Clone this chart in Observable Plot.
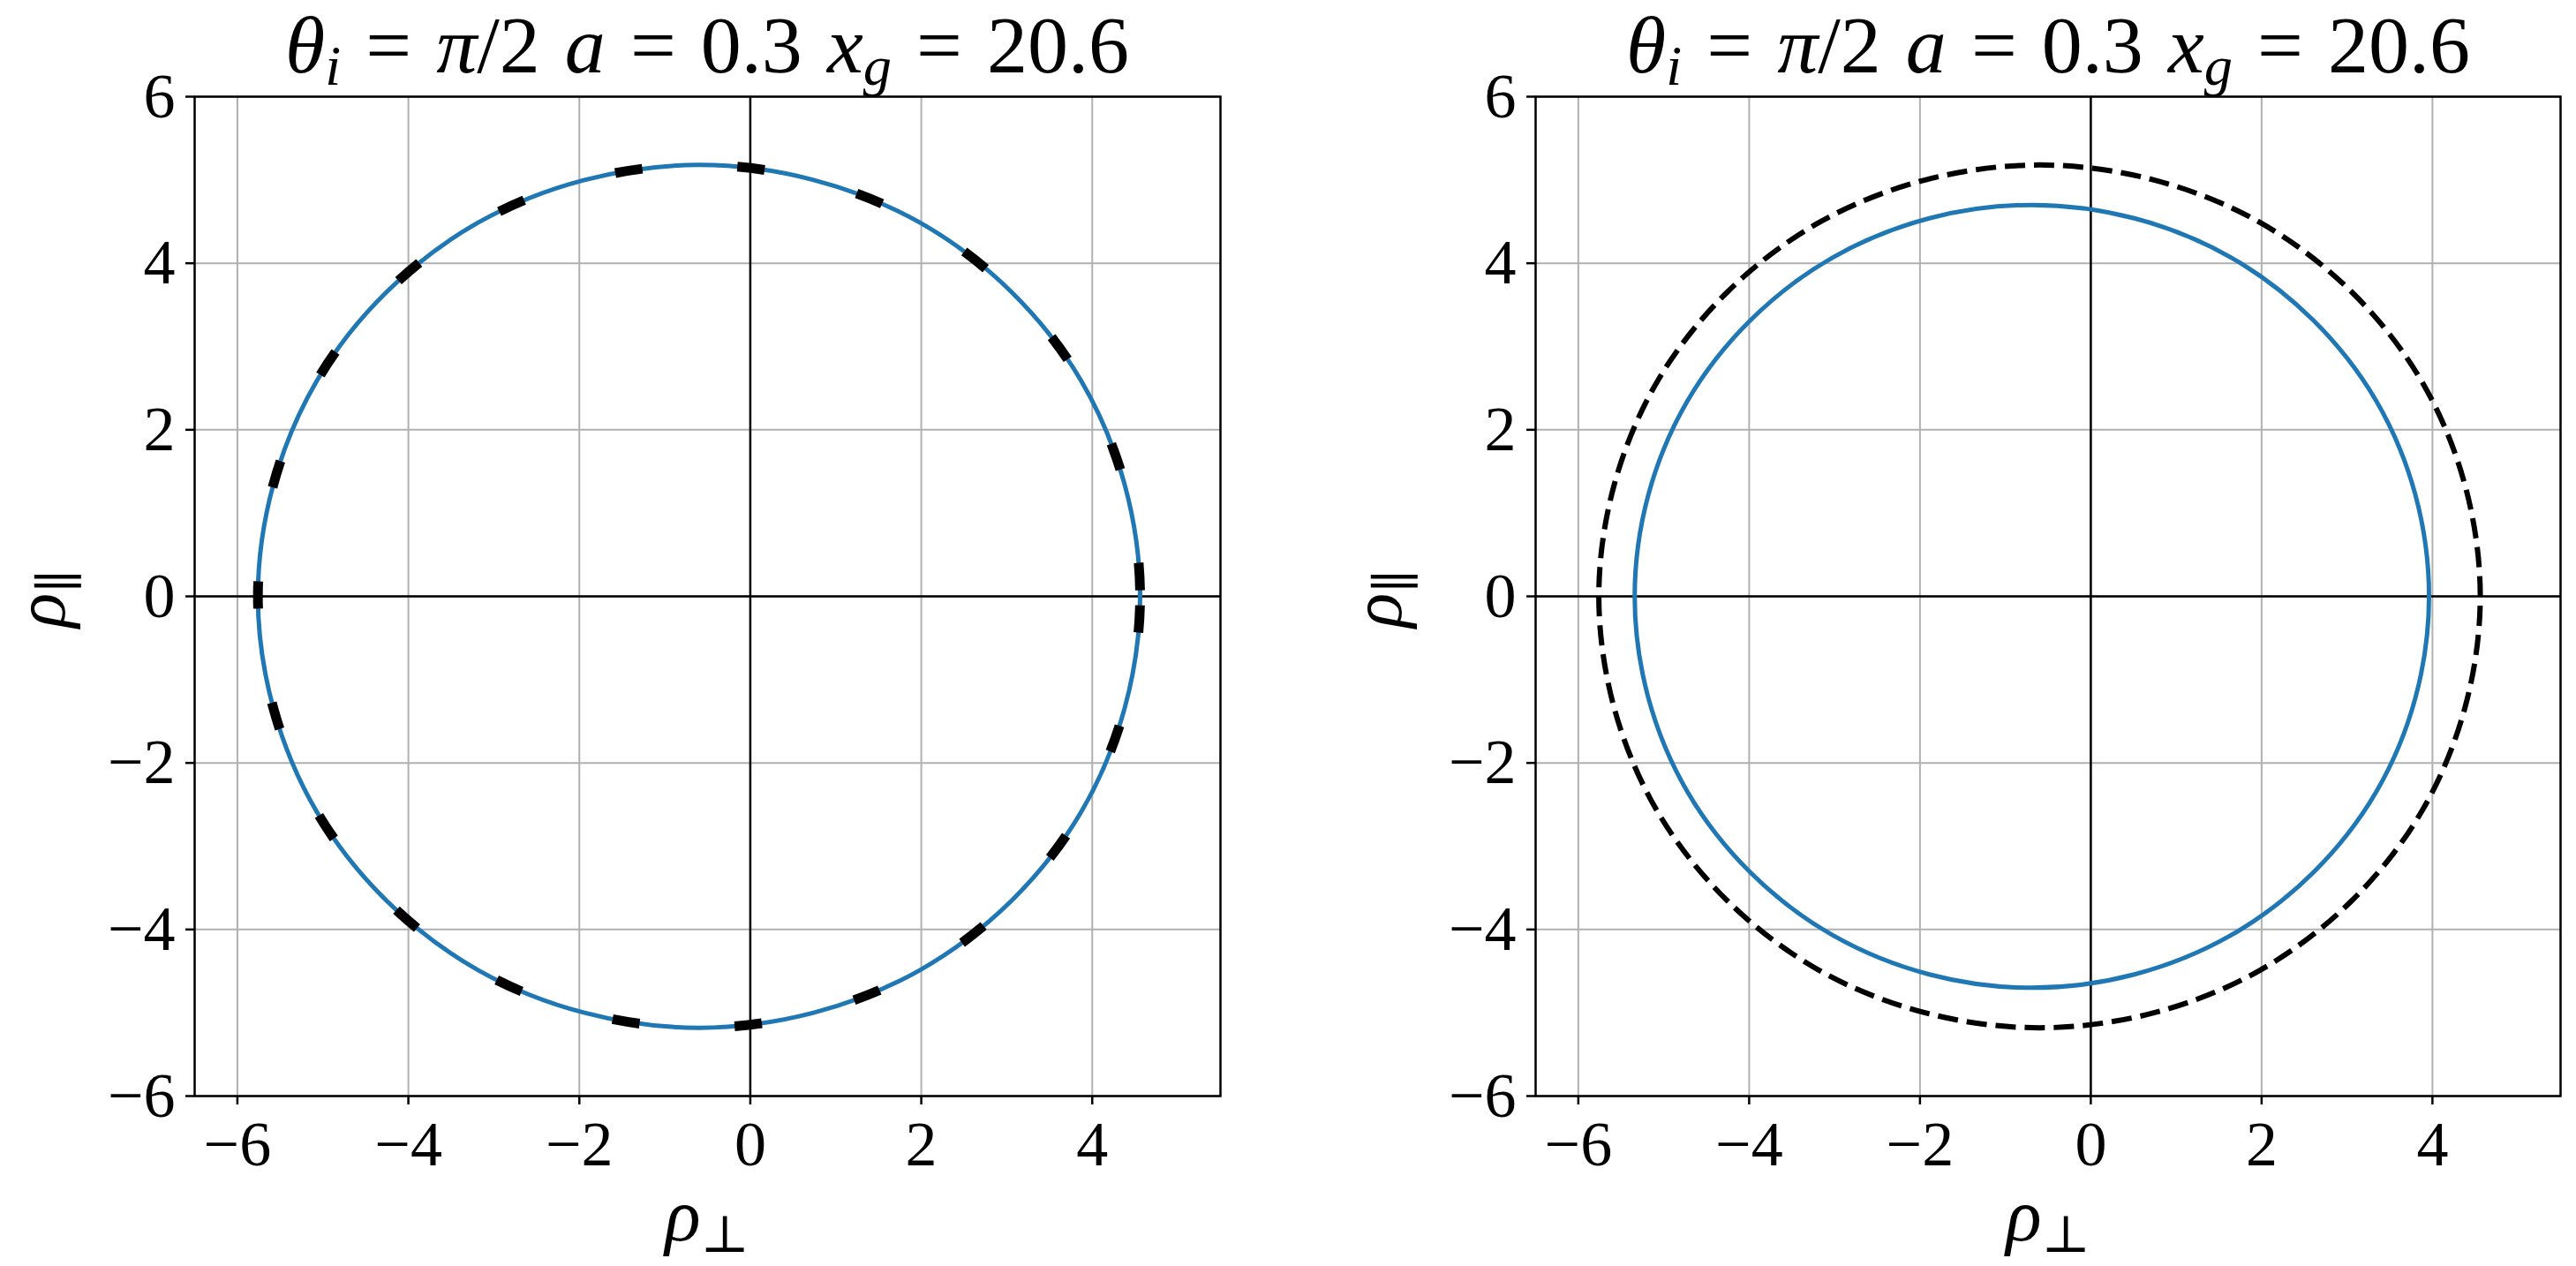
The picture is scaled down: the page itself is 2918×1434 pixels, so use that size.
<!DOCTYPE html>
<html>
<head>
<meta charset="utf-8">
<script src="https://cdn.jsdelivr.net/npm/d3@7"></script>
<script src="https://cdn.jsdelivr.net/npm/@observablehq/plot@0.6"></script>
<style>
  html, body { margin: 0; padding: 0; background: white; }
  #wrap { position: relative; width: 2918px; height: 1434px; overflow: hidden; background: white; }
  .panel { position: absolute; top: 0; }
  .txt { position: absolute; font-family: "Liberation Serif", "DejaVu Serif", serif; color: black; line-height: 1; white-space: nowrap; }
  .txt i { font-style: italic; }
  .sub { font-size: 0.7em; position: relative; top: 0.22em; }
  .title { font-size: 92px; transform: translateX(-50%); word-spacing: 0.055em; }
  .xlab { font-size: 84px; transform: translateX(-50%); }
  .ylab { font-size: 82px; line-height: 0.7; transform: translate(-50%, -50%) rotate(-90deg); }
</style>
</head>
<body>
<div id="wrap"></div>
<script>
// ---- data ----
const xTicks = [-6, -4, -2, 0, 2, 4];
const yTicks = [-6, -4, -2, 0, 2, 4, 6];
const xDomain = [-6.5, 5.5];
const yDomain = [-6, 6];

// reference curve (black dashed) (closed loop)
const refX = [4.38, 4.56, 4.38, 3.87, 3.05, 1.98, 0.74, -0.60, -1.94, -3.18, -4.25, -5.07, -5.58, -5.76, -5.58, -5.07, -4.25, -3.18, -1.94, -0.60, 0.74, 1.98, 3.05, 3.87];
const refY = [-1.34, 0.00, 1.34, 2.59, 3.66, 4.49, 5.00, 5.18, 5.00, 4.49, 3.66, 2.59, 1.34, 0.00, -1.34, -2.59, -3.66, -4.49, -5.00, -5.18, -5.00, -4.49, -3.66, -2.59];

// left panel blue curve
const leftX = [4.56, 4.38, 3.87, 3.05, 1.98, 0.74, -0.60, -1.94, -3.18, -4.25, -5.07, -5.58, -5.76, -5.58, -5.07, -4.25, -3.18, -1.94, -0.60, 0.74, 1.98, 3.05, 3.87, 4.38];
const leftY = [0.00, 1.34, 2.59, 3.66, 4.49, 5.00, 5.18, 5.00, 4.49, 3.66, 2.59, 1.34, 0.00, -1.34, -2.59, -3.66, -4.49, -5.00, -5.18, -5.00, -4.49, -3.66, -2.59, -1.34];

// right panel blue curve
const rightX = [3.96, 3.80, 3.34, 2.60, 1.64, 0.51, -0.69, -1.89, -3.02, -3.98, -4.72, -5.18, -5.34, -5.18, -4.72, -3.98, -3.02, -1.89, -0.69, 0.51, 1.64, 2.60, 3.34, 3.80];
const rightY = [0.00, 1.22, 2.35, 3.32, 4.07, 4.54, 4.70, 4.54, 4.07, 3.32, 2.35, 1.22, 0.00, -1.22, -2.35, -3.32, -4.07, -4.54, -4.70, -4.54, -4.07, -3.32, -2.35, -1.22];

const titleHTML = '<i>θ</i><span class="sub"><i>i</i></span> = <i>π</i>/2 <i>a</i> = 0.3 <i>x</i><span class="sub"><i>g</i></span> = 20.6';

const toRows = (X, Y) => X.map((x, i) => ({x, y: Y[i]}));
const ref = toRows(refX, refY);

function panel(blue, refStyle, margins) {
  return Plot.plot({
    width: 1459,
    height: 1434,
    marginLeft: margins.left,
    marginRight: margins.right,
    marginTop: 109,
    marginBottom: 193,
    style: {fontFamily: "Liberation Serif, DejaVu Serif, serif", fontSize: "72px", background: "white", color: "black", overflow: "visible"},
    x: {domain: xDomain, label: null},
    y: {domain: yDomain, label: null},
    marks: [
      Plot.gridX(xTicks, {stroke: "#b0b0b0", strokeOpacity: 1, strokeWidth: 2}),
      Plot.gridY(yTicks, {stroke: "#b0b0b0", strokeOpacity: 1, strokeWidth: 2}),
      Plot.ruleY([0], {stroke: "black", strokeWidth: 2.5}),
      Plot.ruleX([0], {stroke: "black", strokeWidth: 2.5}),
      Plot.line(blue, {x: "x", y: "y", stroke: "#1f77b4", strokeWidth: 5, curve: "catmull-rom-closed"}),
      Plot.line(ref, {x: "x", y: "y", stroke: "black", curve: "catmull-rom-closed", ...refStyle}),
      Plot.frame({stroke: "black", strokeWidth: 2.5}),
      Plot.axisX({ticks: xTicks, tickSize: 10, tickPadding: 17, strokeWidth: 2.5, label: null}),
      Plot.axisY({ticks: yTicks, tickSize: 10, tickPadding: 12, strokeWidth: 2.5, label: null})
    ]
  });
}

const wrap = document.getElementById("wrap");

const p1 = panel(toRows(leftX, leftY), {strokeWidth: 11, strokeDasharray: "31,107.9", strokeDashoffset: 131.9, strokeLinecap: "butt"}, {left: 220, right: 77});
p1.classList.add("panel");
p1.style.left = "0px";
wrap.appendChild(p1);

const p2 = panel(toRows(rightX, rightY), {strokeWidth: 6, strokeDasharray: "23,10", strokeLinecap: "butt"}, {left: 280, right: 18});
p2.classList.add("panel");
p2.style.left = "1459px";
wrap.appendChild(p2);

function addText(cls, html, left, top) {
  const d = document.createElement("div");
  d.className = "txt " + cls;
  d.innerHTML = html;
  d.style.left = left + "px";
  d.style.top = top + "px";
  wrap.appendChild(d);
}

const centers = [801, 2320];
const yLabX = [46, 46 + 1514];
centers.forEach((cx, k) => {
  addText("title", titleHTML, cx, 5);
  addText("xlab", '<i>ρ</i><span class="sub">⊥</span>', cx, 1335);
  addText("ylab", '<i>ρ</i><span class="sub">∥</span>', yLabX[k], 678);
});
</script>
</body>
</html>
